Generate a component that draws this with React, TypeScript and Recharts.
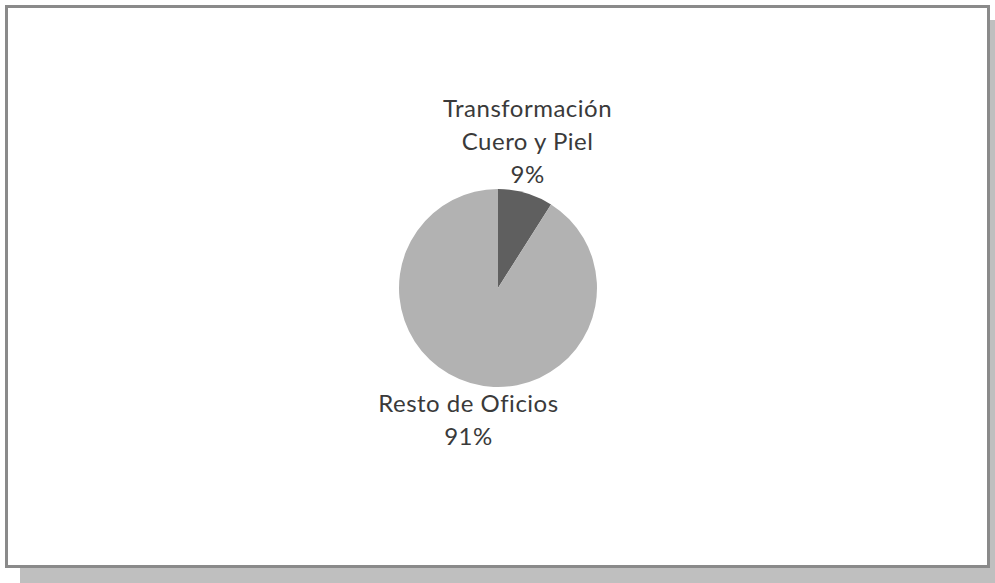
import { PieChart, Pie, Cell } from "recharts"

const names = ["Transformación Cuero y Piel", "Resto de Oficios"]
const labelLines = [["Transformación", "Cuero y Piel"], ["Resto de Oficios"]]
const values = [9, 91]
const colors = ["#5f5f5f", "#b2b2b2"]

const data = names.map((name, i) => ({ name, value: values[i] }))

const RAD = Math.PI / 180

function SliceLabel(props: any) {
  const { cx, cy, midAngle, outerRadius, index, value } = props
  const r = outerRadius + 7
  const x = cx + r * Math.cos(-midAngle * RAD)
  const y = cy + r * Math.sin(-midAngle * RAD)
  const lines = [...labelLines[index], `${value}%`]
  const step = 33
  const above = y < cy
  const first = above ? y - 3 - (lines.length - 1) * step : y + 22
  return (
    <text x={x} textAnchor="middle" fill="#3a3a3a" fontSize={24} letterSpacing={0.5}
      fontFamily="Lato, 'Open Sans', sans-serif">
      {lines.map((t, i) => (
        <tspan key={i} x={x} y={first + i * step}>{t}</tspan>
      ))}
    </text>
  )
}

export default function App() {
  return (
    <div style={{ position: "absolute", left: 0, top: 0, width: 995, height: 583, background: "#fff", overflow: "hidden" }}>
      <div style={{ position: "absolute", left: 20, top: 20, width: 975, height: 563, background: "#bfbfbf" }} />
      <div style={{
        position: "absolute", left: 5, top: 5, width: 979, height: 557,
        background: "#fff", border: "3px solid #8a8a8a",
      }} />
      <div style={{ position: "absolute", left: 0, top: 0 }}>
        <PieChart width={995} height={583} margin={{ top: 0, right: 0, bottom: 0, left: 0 }}>
          <Pie data={data} dataKey="value" nameKey="name" cx={498} cy={288}
            outerRadius={99} startAngle={90} endAngle={-270} stroke="none"
            label={SliceLabel} labelLine={false} isAnimationActive={false}>
            {data.map((d, i) => <Cell key={i} fill={colors[i]} />)}
          </Pie>
        </PieChart>
      </div>
    </div>
  )
}
